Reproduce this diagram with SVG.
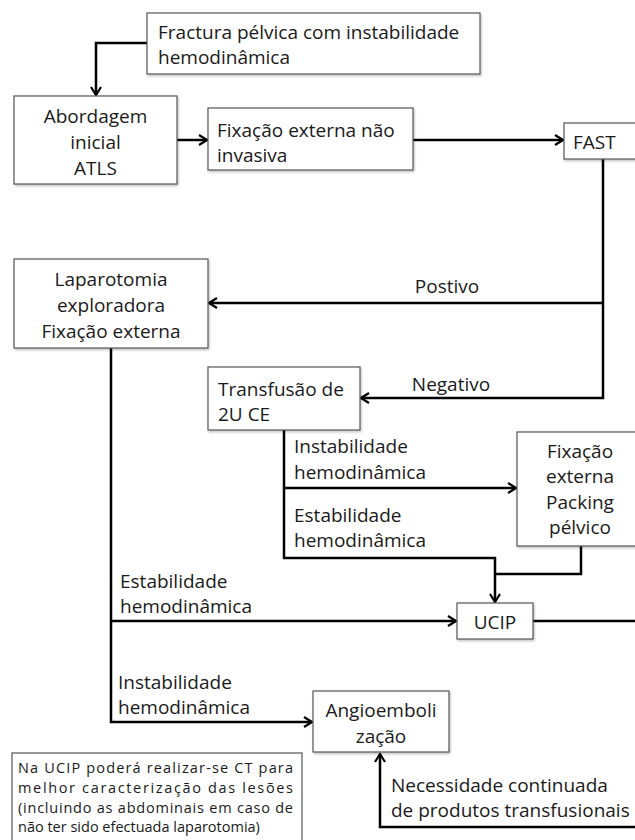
<svg xmlns="http://www.w3.org/2000/svg" width="635" height="840" viewBox="0 0 635 840">
<style>
.box{fill:#fff;stroke:#555;stroke-width:1.2}
.t{font-family:"Open Sans","Liberation Sans",sans-serif;font-size:19px;fill:#1a1a1a}
.c{text-anchor:middle}
.n{font-family:"Open Sans","Liberation Sans",sans-serif;font-size:14.5px;fill:#1a1a1a}
.ln{fill:none;stroke:#000;stroke-width:2.5}
</style>
<defs>
<marker id="ah" viewBox="0 0 10 12" refX="9" refY="6" markerWidth="10" markerHeight="12" markerUnits="userSpaceOnUse" orient="auto">
<path d="M1,1 L9,6 L1,11" fill="none" stroke="#000" stroke-width="2.2"/>
</marker>
<filter id="sh" x="-5%" y="-5%" width="115%" height="120%">
<feDropShadow dx="1" dy="1.5" stdDeviation="1" flood-color="#000" flood-opacity="0.25"/>
</filter>
</defs>
<rect width="635" height="840" fill="#fff"/>
<g id="connectors">
<path class="ln" d="M147,43 H96 V95" marker-end="url(#ah)"/>
<path class="ln" d="M177,140 H207" marker-end="url(#ah)"/>
<path class="ln" d="M413,140 H563" marker-end="url(#ah)"/>
<path class="ln" d="M603,159 V398 H361" marker-end="url(#ah)"/>
<path class="ln" d="M603,303 H209" marker-end="url(#ah)"/>
<path class="ln" d="M111,348 V722 H312" marker-end="url(#ah)"/>
<path class="ln" d="M111,621 H456" marker-end="url(#ah)"/>
<path class="ln" d="M284,430 V558 H495 V602" marker-end="url(#ah)"/>
<path class="ln" d="M284,488 H516" marker-end="url(#ah)"/>
<path class="ln" d="M581,546 V574 H495"/>
<path class="ln" d="M533,621 H640"/>
<path class="ln" d="M640,827 H380 V754" marker-end="url(#ah)"/>
<text class="t c" x="447" y="293">Postivo</text>
<text class="t c" x="451" y="391">Negativo</text>
<text class="t" x="294" y="453">Instabilidade</text>
<text class="t" x="294" y="479">hemodinâmica</text>
<text class="t" x="294" y="522">Estabilidade</text>
<text class="t" x="294" y="547">hemodinâmica</text>
<text class="t" x="120" y="588">Estabilidade</text>
<text class="t" x="120" y="613">hemodinâmica</text>
<text class="t" x="118" y="689">Instabilidade</text>
<text class="t" x="118" y="714">hemodinâmica</text>
<text class="t" x="391" y="792">Necessidade continuada</text>
<text class="t" x="391" y="817">de produtos transfusionais</text>
</g>
<g id="n-fractura">
<rect class="box" filter="url(#sh)" x="147" y="13" width="333" height="61"/>
<text class="t" x="158" y="39">Fractura pélvica com instabilidade</text>
<text class="t" x="158" y="64">hemodinâmica</text>
</g>
<g id="n-abordagem">
<rect class="box" filter="url(#sh)" x="14" y="96" width="163" height="88"/>
<text class="t c" x="95.5" y="123">Abordagem</text>
<text class="t c" x="95.5" y="149">inicial</text>
<text class="t c" x="95.5" y="175">ATLS</text>
</g>
<g id="n-fixacao-ni">
<rect class="box" filter="url(#sh)" x="208" y="108" width="205" height="62"/>
<text class="t" x="217" y="137">Fixação externa não</text>
<text class="t" x="217" y="162">invasiva</text>
</g>
<g id="n-fast">
<rect class="box" filter="url(#sh)" x="564" y="123" width="76" height="36"/>
<text class="t" x="573" y="149">FAST</text>
</g>
<g id="n-laparotomia">
<rect class="box" filter="url(#sh)" x="14" y="259" width="194" height="89"/>
<text class="t c" x="111" y="286">Laparotomia</text>
<text class="t c" x="111" y="312">exploradora</text>
<text class="t c" x="111" y="338">Fixação externa</text>
</g>
<g id="n-transfusao">
<rect class="box" filter="url(#sh)" x="208" y="367" width="152" height="63"/>
<text class="t" x="218" y="396">Transfusão de</text>
<text class="t" x="218" y="421">2U CE</text>
</g>
<g id="n-fixacao-packing">
<rect class="box" filter="url(#sh)" x="517" y="432" width="126" height="114"/>
<text class="t c" x="580" y="458">Fixação</text>
<text class="t c" x="580" y="483">externa</text>
<text class="t c" x="580" y="509">Packing</text>
<text class="t c" x="580" y="534">pélvico</text>
</g>
<g id="n-ucip">
<rect class="box" filter="url(#sh)" x="457" y="603" width="76" height="36"/>
<text class="t c" x="495" y="629">UCIP</text>
</g>
<g id="n-angio">
<rect class="box" filter="url(#sh)" x="313" y="691" width="136" height="61"/>
<text class="t c" x="381" y="717">Angioemboli</text>
<text class="t c" x="381" y="743">zação</text>
</g>
<g id="n-nota">
<rect class="box" x="12" y="753" width="290" height="95"/>
<text class="n" x="18" y="773" textLength="275" lengthAdjust="spacing">Na UCIP poderá realizar-se CT para</text>
<text class="n" x="18" y="793" textLength="275" lengthAdjust="spacing">melhor caracterização das lesões</text>
<text class="n" x="18" y="813" textLength="275" lengthAdjust="spacing">(incluindo as abdominais em caso de</text>
<text class="n" x="18" y="832">não ter sido efectuada laparotomia)</text>
</g>
</svg>
